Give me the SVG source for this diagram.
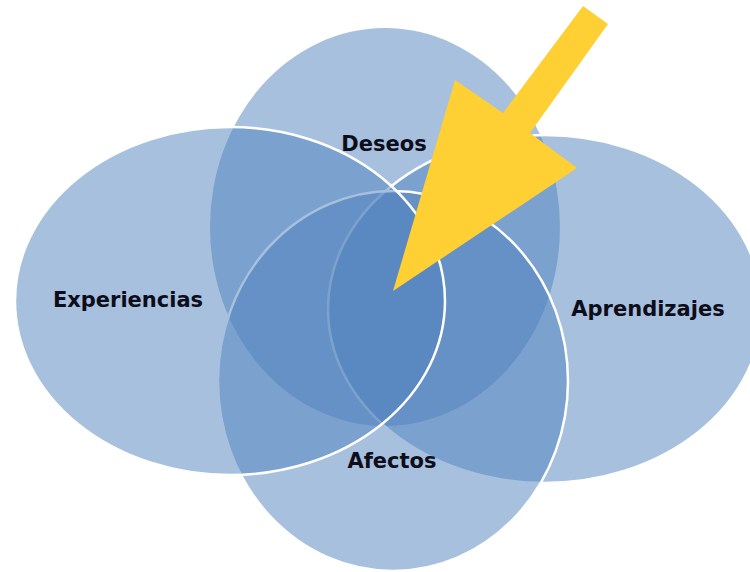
<svg xmlns="http://www.w3.org/2000/svg" width="750" height="572" viewBox="0 0 750 572">
<style>
.set{fill:#4F81BD;fill-opacity:0.5;stroke:#FFFFFF;stroke-width:2.5}
.nostroke{stroke:none}
.lbl{font-family:"DejaVu Sans","Open Sans","Liberation Sans",sans-serif;font-weight:700;font-size:21px;fill:#0D0D1A;text-anchor:middle}
.arrow{fill:#FFD033}
</style>
<rect width="750" height="572" fill="#FFFFFF"/>
<g id="deseos">
<ellipse class="set nostroke" cx="385" cy="227" rx="175" ry="199"/>
</g>
<g id="aprendizajes">
<ellipse class="set" cx="545" cy="309" rx="217" ry="174"/>
</g>
<g id="afectos">
<ellipse class="set" cx="393" cy="381" rx="175" ry="190"/>
</g>
<g id="experiencias">
<ellipse class="set" cx="230" cy="301" rx="215" ry="174"/>
</g>
<g id="labels">
<text class="lbl" x="384" y="151">Deseos</text>
<text class="lbl" x="128" y="307">Experiencias</text>
<text class="lbl" x="648" y="316">Aprendizajes</text>
<text class="lbl" x="392" y="468">Afectos</text>
</g>
<g id="connectors">
<polygon class="arrow" points="583,6 608,24 530,133 577,168 393,291 455,80 503,113"/>
</g>
</svg>
